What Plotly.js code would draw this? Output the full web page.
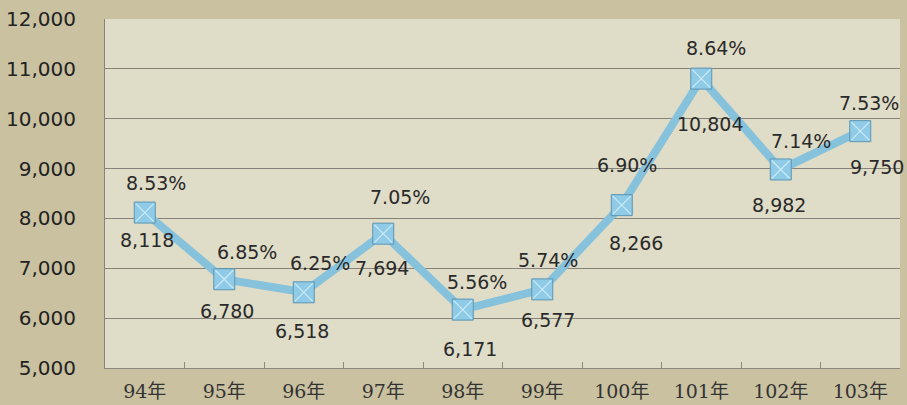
<!DOCTYPE html>
<html>
<head>
<meta charset="utf-8">
<script src="https://cdn.plot.ly/plotly-3.0.1.min.js"></script>
<style>html,body{margin:0;padding:0;background:#c9c1a0;}#chart{width:907px;height:405px;}</style>
</head>
<body>
<div id="chart"></div>
<script>
var years = ["94年","95年","96年","97年","98年","99年","100年","101年","102年","103年"];
var values = [8118, 6780, 6518, 7694, 6171, 6577, 8266, 10804, 8982, 9750];
var rates = ["8.53%","6.85%","6.25%","7.05%","5.56%","5.74%","6.90%","8.64%","7.14%","7.53%"];
var yTicks = [5000, 6000, 7000, 8000, 9000, 10000, 11000, 12000];

// label pixel offsets (styling only)
var rateShift = [[11,30],[23,27],[16,29],[17,37],[14,28],[6,29],[5,40],[15,31],[20,28],[9,28]];
var valShift = [[2,-27],[3,-32],[-2,-39],[-1,-34],[7,-39],[6,-31],[14,-38],[9,-45],[-2,-36],[17,-36]];

function fmt(v){ return v.toLocaleString('en-US'); }

var annotations = [];
for (var i = 0; i < years.length; i++) {
  annotations.push({x: years[i], y: values[i], xref:'x', yref:'y', text: rates[i], showarrow:false,
    xshift: rateShift[i][0], yshift: rateShift[i][1], font:{family:'DejaVu Sans', size:19, color:'#2a2a2a'}});
  annotations.push({x: years[i], y: values[i], xref:'x', yref:'y', text: fmt(values[i]), showarrow:false,
    xshift: valShift[i][0], yshift: valShift[i][1], font:{family:'DejaVu Sans', size:19, color:'#2a2a2a'}});
}

var traces = [
  {x: years, y: values, type:'scatter', mode:'lines', line:{color:'#86c2dc', width:8}, hoverinfo:'skip'},
  {x: years, y: values, type:'scatter', mode:'markers',
   marker:{symbol:'square', size:21, color:'#8fcbe6', line:{color:'#5b95b3', width:1}}, hoverinfo:'skip'},
  {x: years, y: values, type:'scatter', mode:'markers',
   marker:{symbol:'x-thin', size:18, color:'rgba(0,0,0,0)', line:{color:'rgba(230,248,255,0.7)', width:1.2}}, hoverinfo:'skip'}
];

var layout = {
  width: 907, height: 405,
  margin: {l:105, r:7, t:19, b:37},
  paper_bgcolor: '#c9c1a0',
  plot_bgcolor: '#dfdcc7',
  showlegend: false,
  xaxis: {type:'category', range:[-0.5, 9.5], autorange:false, showgrid:false, showline:true, linecolor:'#8c8a80', linewidth:1,
    ticks:'inside', ticklen:6, tickcolor:'#8c8a80', tickson:'boundaries', mirror:false,
    ticklabelstandoff: 6,
    tickfont:{family:'DejaVu Serif, Noto Sans CJK TC', size:19, color:'#333'}, fixedrange:true},
  yaxis: {range:[5000,12000], autorange:false, tickvals: yTicks, ticktext: yTicks.map(fmt), showgrid:true,
    gridcolor:'#85837a', gridwidth:1, showline:true, linecolor:'#85837a', zeroline:false,
    ticks:'outside', ticklen:24, tickcolor:'rgba(0,0,0,0)',
    tickfont:{family:'DejaVu Sans', size:20, color:'#222'}, fixedrange:true},
  annotations: annotations
};

Plotly.newPlot('chart', traces, layout, {displayModeBar:false, staticPlot:true});
</script>
</body>
</html>
